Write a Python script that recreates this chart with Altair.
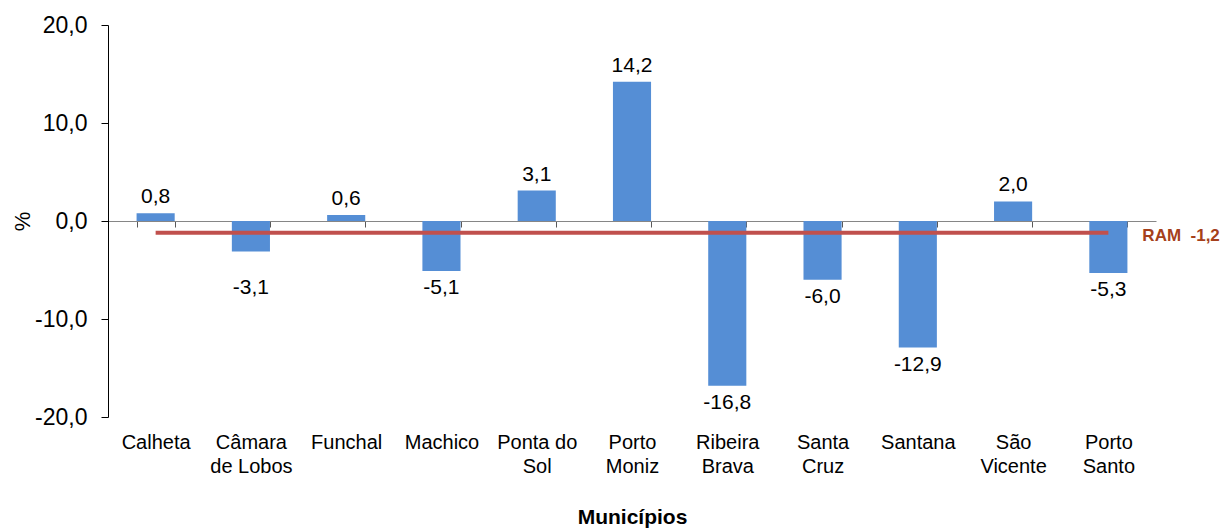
import json
import altair as alt
import pandas as pd

# ---- data -------------------------------------------------------------
municipios = ["Calheta", "Câmara de Lobos", "Funchal", "Machico", "Ponta do Sol",
              "Porto Moniz", "Ribeira Brava", "Santa Cruz", "Santana", "São Vicente",
              "Porto Santo"]
rotulos = [["Calheta"], ["Câmara", "de Lobos"], ["Funchal"], ["Machico"],
           ["Ponta do", "Sol"], ["Porto", "Moniz"], ["Ribeira", "Brava"],
           ["Santa", "Cruz"], ["Santana"], ["São", "Vicente"], ["Porto", "Santo"]]
variacao = [0.8, -3.1, 0.6, -5.1, 3.1, 14.2, -16.8, -6.0, -12.9, 2.0, -5.3]
ram_nome = "RAM"
ram_valor = -1.2
y_ticks = [-20, -10, 0, 10, 20]
y_min, y_max = -20, 20

# ---- layout / style ---------------------------------------------------
W, H = 1048, 392
FONT = "Liberation Sans"
BAR = "#558ED5"
RED = "#C0504D"
RAM_COLOR = "#A5401B"

df = pd.DataFrame({"Municipio": municipios, "Variacao": variacao})
ram_txt = f"{ram_nome}\u00a0\u00a0" + f"{ram_valor:.1f}".replace(".", ",")
ram_df = pd.DataFrame({"inicio": [municipios[0]], "fim": [municipios[-1]],
                       "valor": [ram_valor], "texto": [ram_txt]})

label_map = json.dumps(dict(zip(municipios, rotulos)), ensure_ascii=False)
fmt = "replace(replace(format({f}, '.1f'), '.', ','), '\u2212', '-')"

zero_offset = -H * (0 - y_min) / (y_max - y_min)

x_scale = alt.Scale(domain=municipios, paddingInner=0.6, paddingOuter=0.3)
y_scale = alt.Scale(domain=[y_min, y_max], nice=False, zero=False)

x_axis = alt.Axis(
    orient="bottom", offset=zero_offset, grid=False,
    domainColor="#868686", domainWidth=1,
    tickColor="#595959", tickSize=6, tickBand="extent",
    labelAngle=0, labelPadding=205, labelFont=FONT, labelFontSize=20,
    labelColor="black", labelLineHeight=24, labelOverlap=False, labelFlush=False,
    labelBound=False,
    labelExpr=f"{label_map}[datum.label] || datum.label",
    title="Municípios", titleFont=FONT, titleFontSize=21, titleFontWeight="bold",
    titleColor="black", titleY=302, titleBaseline="alphabetic",
)
y_axis = alt.Axis(
    values=y_ticks, grid=False, domainColor="black", tickColor="black",
    tickSize=7, labelPadding=14, labelFont=FONT, labelFontSize=23,
    labelColor="black", labelExpr=fmt.format(f="datum.value"),
    title="%", titleFont=FONT, titleFontSize=22, titleFontWeight="normal",
    titleColor="black", titleX=-86, titleBaseline="middle",
)

base = alt.Chart(df)
x_enc = alt.X("Municipio:N", scale=x_scale, axis=x_axis, sort=municipios)

bars = base.mark_bar(color=BAR).encode(
    x=x_enc,
    y=alt.Y("Variacao:Q", scale=y_scale, axis=y_axis),
)

pos_text = base.transform_filter("datum.Variacao >= 0").transform_calculate(
    rot=fmt.format(f="datum.Variacao")
).mark_text(dy=-16, baseline="middle", font=FONT, fontSize=21, color="black").encode(
    x=x_enc, y=alt.Y("Variacao:Q", scale=y_scale, axis=y_axis), text="rot:N"
)

neg_text = base.transform_filter("datum.Variacao < 0").transform_calculate(
    rot=fmt.format(f="datum.Variacao"), pos="min(datum.Variacao, -5)"
).mark_text(dy=17.5, baseline="middle", font=FONT, fontSize=21, color="black").encode(
    x=x_enc, y=alt.Y("pos:Q", scale=y_scale, axis=y_axis), text="rot:N"
)

ram_line = alt.Chart(ram_df).mark_rule(color=RED, strokeWidth=4).encode(
    x=alt.X("inicio:N", scale=x_scale, axis=x_axis),
    x2="fim:N",
    y=alt.Y("valor:Q", scale=y_scale, axis=y_axis),
)

ram_label = alt.Chart(ram_df).mark_text(
    align="left", baseline="middle", dx=34, dy=3, font=FONT, fontSize=17,
    fontWeight="bold", color=RAM_COLOR
).encode(
    x=alt.X("fim:N", scale=x_scale, axis=x_axis),
    y=alt.Y("valor:Q", scale=y_scale, axis=y_axis),
    text="texto:N",
)

chart = alt.layer(bars, pos_text, neg_text, ram_line, ram_label).properties(
    width=W, height=H,
    autosize=alt.AutoSizeParams(type="none"),
    padding={"left": 100, "top": 17, "right": 65, "bottom": 112},
    view=alt.ViewBackground(stroke="transparent", strokeWidth=0, strokeOpacity=0),
).configure_view(stroke="transparent", strokeWidth=0, strokeOpacity=0).configure(
    background="white"
)

chart.save("out.html", embed_options={"renderer": "svg", "actions": False})
